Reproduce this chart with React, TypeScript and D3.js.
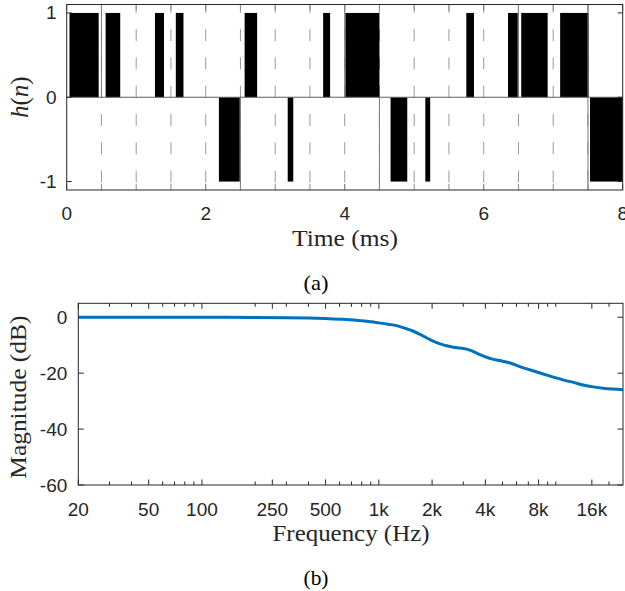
import React from "react";
import * as d3 from "d3";

// ---------- Data: impulse-like sequence h(n) ----------
const barStart = [0.04, 0.56, 1.27, 1.57, 2.19, 2.56, 3.18, 3.69, 4.01, 4.66, 5.16, 5.75, 6.35, 6.54, 7.10, 7.53];
const barEnd = [0.46, 0.77, 1.40, 1.68, 2.49, 2.74, 3.26, 3.79, 4.50, 4.90, 5.23, 5.86, 6.49, 6.92, 7.51, 8.0];
const barValue = [1, 1, 1, 1, -1, 1, -1, 1, 1, -1, -1, 1, 1, 1, 1, -1];

// frame boundaries (ms)
const frameLines = [0.5, 1, 1.5, 2, 2.5, 3, 3.5, 4, 4.5, 5, 5.5, 6, 6.5, 7, 7.5];
// solid frame edge segments: time, from value, to value
const edgeTime = [0.5, 2.5, 4.0, 4.5, 6.5, 7.5];
const edgeFrom = [0, -1.1, 0, -1.1, 0, -1.1];
const edgeTo = [1.1, 0, 1.1, 0, 1.1, 1.1];

const timeTicks = [0, 2, 4, 6, 8];
const hTicks = [-1, 0, 1];

// ---------- Data: magnitude response ----------
const freqHz = [20, 50, 100, 200, 300, 400, 500, 630, 780, 900, 1000, 1130, 1260, 1400, 1570, 1720, 1870, 2040, 2220, 2420, 2640, 2880, 3140, 3350, 3570, 3820, 4070, 4350, 4640, 5000, 5400, 5950, 6570, 7500, 8500, 9700, 11000, 12600, 14300, 16300, 18500, 21000, 24000];
const magDb = [0, 0, 0, -0.05, -0.15, -0.3, -0.45, -0.7, -1.2, -1.6, -2.0, -2.5, -3.0, -3.9, -5.0, -6.2, -7.4, -8.6, -9.5, -10.2, -10.7, -11.0, -11.4, -12.0, -12.8, -13.6, -14.3, -14.9, -15.3, -15.7, -16.2, -17.1, -18.1, -19.2, -20.3, -21.4, -22.4, -23.3, -24.2, -24.9, -25.4, -25.7, -25.9];

const freqTickValues = [20, 50, 100, 250, 500, 1000, 2000, 4000, 8000, 16000];
const freqTickLabels = ["20", "50", "100", "250", "500", "1k", "2k", "4k", "8k", "16k"];
const freqMinorTicks = [30, 40, 60, 70, 80, 90, 200, 300, 400, 600, 700, 800, 900, 3000, 5000, 6000, 7000, 9000, 10000, 20000];
const dbTicks = [0, -20, -40, -60];

const AX = "#262626";
const SANS = "'Liberation Sans', Arial, Helvetica, sans-serif";
const SERIF = "'Liberation Serif', 'Times New Roman', serif";

export default function App() {
  // ---------- top panel ----------
  const tL = 66.7, tR = 622.7, tT = 4.5, tB = 190;
  const xT = d3.scaleLinear().domain([0, 8]).range([tL, tR]);
  const yT = d3.scaleLinear().domain([-1.1, 1.1]).range([tB, tT]);

  // ---------- bottom panel ----------
  const bL = 78.3, bR = 623, bT = 303.3, bB = 485;
  const xB = d3.scaleLog().domain([20, 24000]).range([bL, bR]);
  const yB = d3.scaleLinear().domain([-60, 5]).range([bB, bT]);

  const pts: [number, number][] = freqHz.map((f, i) => [xB(f), yB(magDb[i])]);
  const line = d3.line().curve(d3.curveMonotoneX)(pts) || "";

  return (
    <svg width={625} height={591} style={{ position: "absolute", left: 0, top: 0, background: "#fff" }}>
      <rect x={0} y={0} width={625} height={591} fill="#fff" />
      {/* ===== TOP ===== */}
      {frameLines.map((t, i) => (
        <line key={"fl" + i} x1={xT(t)} x2={xT(t)} y1={tT} y2={tB}
          stroke="#9a9a9a" strokeWidth={1} strokeDasharray="12 16.3" strokeDashoffset={3.7} />
      ))}
      {barStart.map((s, i) => {
        const y0 = yT(0), y1 = yT(barValue[i]);
        return (
          <rect key={"b" + i} x={xT(s)} width={xT(barEnd[i]) - xT(s)}
            y={Math.min(y0, y1)} height={Math.abs(y1 - y0)} fill="#000" />
        );
      })}
      {edgeTime.map((t, i) => (
        <line key={"e" + i} x1={xT(t)} x2={xT(t)} y1={yT(edgeFrom[i])} y2={yT(edgeTo[i])}
          stroke="#7a7a7a" strokeWidth={1} />
      ))}
      <line x1={tL} x2={tR} y1={yT(0)} y2={yT(0)} stroke="#5e5e5e" strokeWidth={1} />
      {frameLines.concat(timeTicks).map((t, i) => (
        <g key={"xt" + i}>
          <line x1={xT(t)} x2={xT(t)} y1={tB} y2={tB - 6} stroke="#8a8a8a" />
          <line x1={xT(t)} x2={xT(t)} y1={tT} y2={tT + 6} stroke="#8a8a8a" />
        </g>
      ))}
      {hTicks.map((v, i) => (
        <g key={"yt" + i}>
          <line x1={tL} x2={tL + 5} y1={yT(v)} y2={yT(v)} stroke={AX} />
          <line x1={tR} x2={tR - 5} y1={yT(v)} y2={yT(v)} stroke={AX} />
          <text x={tL - 10} y={yT(v)} textAnchor="end" dominantBaseline="central"
            fontFamily={SANS} fontSize={19} fill={AX}>{v}</text>
        </g>
      ))}
      <rect x={tL} y={tT} width={tR - tL} height={tB - tT} fill="none" stroke={AX} strokeWidth={1} />
      {timeTicks.map((t, i) => (
        <text key={"xl" + i} x={xT(t)} y={213} textAnchor="middle" dominantBaseline="central"
          fontFamily={SANS} fontSize={19} fill={AX}>{t}</text>
      ))}
      <text x={345} y={238} textAnchor="middle" dominantBaseline="central" fontFamily={SERIF} fontSize={23}
        textLength={106} lengthAdjust="spacingAndGlyphs" fill={AX}>Time (ms)</text>
      <text transform={`translate(19,${yT(0)}) rotate(-90)`} textAnchor="middle" dominantBaseline="central"
        fontFamily={SERIF} fontSize={25} fill={AX}>
        <tspan fontStyle="italic">h</tspan>(<tspan fontStyle="italic">n</tspan>)
      </text>
      <text x={316} y={282} textAnchor="middle" dominantBaseline="central" fontFamily={SERIF} fontSize={22}
        textLength={25} lengthAdjust="spacingAndGlyphs" fill="#000">(a)</text>

      {/* ===== BOTTOM ===== */}
      {freqMinorTicks.map((f, i) => (
        <g key={"mt" + i}>
          <line x1={xB(f)} x2={xB(f)} y1={bB} y2={bB - 3.5} stroke={AX} />
          <line x1={xB(f)} x2={xB(f)} y1={bT} y2={bT + 3.5} stroke={AX} />
        </g>
      ))}
      {freqTickValues.map((f, i) => (
        <g key={"ft" + i}>
          <line x1={xB(f)} x2={xB(f)} y1={bB} y2={bB - 5.5} stroke={AX} />
          <line x1={xB(f)} x2={xB(f)} y1={bT} y2={bT + 5.5} stroke={AX} />
          <text x={xB(f)} y={509} textAnchor="middle" dominantBaseline="central"
            fontFamily={SANS} fontSize={19} fill={AX}>{freqTickLabels[i]}</text>
        </g>
      ))}
      {dbTicks.map((v, i) => (
        <g key={"dt" + i}>
          <line x1={bL} x2={bL + 5.5} y1={yB(v)} y2={yB(v)} stroke={AX} />
          <line x1={bR} x2={bR - 5.5} y1={yB(v)} y2={yB(v)} stroke={AX} />
          <text x={bL - 11} y={yB(v)} textAnchor="end" dominantBaseline="central"
            fontFamily={SANS} fontSize={19} fill={AX}>{v}</text>
        </g>
      ))}
      <path d={line} fill="none" stroke="#0072BD" strokeWidth={3} strokeLinejoin="round" />
      <rect x={bL} y={bT} width={bR - bL} height={bB - bT} fill="none" stroke={AX} strokeWidth={1} />
      <text x={351} y={533} textAnchor="middle" dominantBaseline="central" fontFamily={SERIF} fontSize={23}
        textLength={157} lengthAdjust="spacingAndGlyphs" fill={AX}>Frequency (Hz)</text>
      <text transform={`translate(18,${(bT + bB) / 2 + 3}) rotate(-90)`} textAnchor="middle" dominantBaseline="central"
        fontFamily={SERIF} fontSize={23} textLength={163} lengthAdjust="spacingAndGlyphs" fill={AX}>Magnitude (dB)</text>
      <text x={316} y={577} textAnchor="middle" dominantBaseline="central" fontFamily={SERIF} fontSize={22}
        textLength={25} lengthAdjust="spacingAndGlyphs" fill="#000">(b)</text>
    </svg>
  );
}
